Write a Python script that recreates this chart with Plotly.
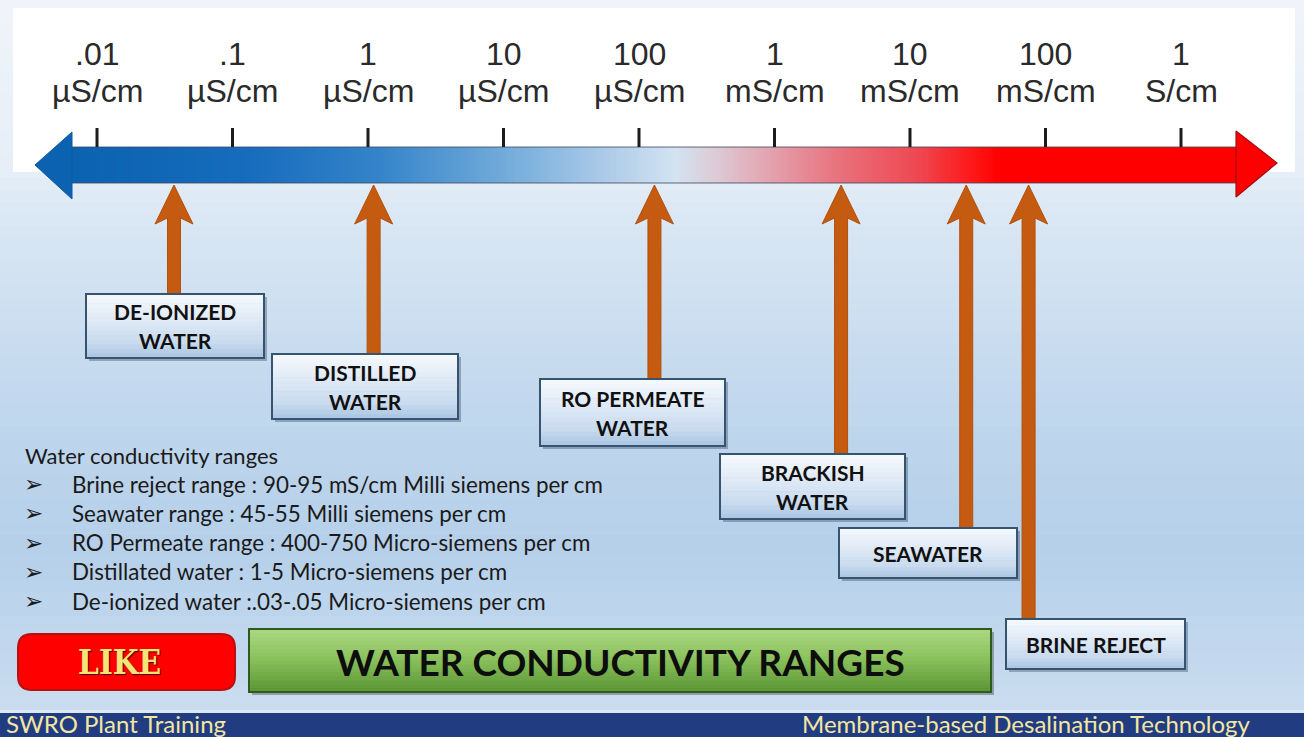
import numpy as np
import plotly.graph_objects as go

# ---------------- data ----------------
scale_values_uS = [0.01, 0.1, 1, 10, 100, 1000, 10000, 100000, 1000000]
scale_numbers = [".01", ".1", "1", "10", "100", "1", "10", "100", "1"]
scale_units = ["µS/cm", "µS/cm", "µS/cm", "µS/cm", "µS/cm", "mS/cm", "mS/cm", "mS/cm", "S/cm"]

water_labels = ["DE-IONIZED<br>WATER", "DISTILLED<br>WATER", "RO PERMEATE<br>WATER",
                "BRACKISH<br>WATER", "SEAWATER", "BRINE REJECT"]
water_pointer_uS = [0.037, 1.1, 130, 3100, 26000, 75000]

range_title = "Water conductivity ranges"
range_lines = [
    "Brine reject range : 90-95 mS/cm Milli siemens per cm",
    "Seawater range : 45-55 Milli siemens per cm",
    "RO Permeate range : 400-750 Micro-siemens per cm",
    "Distillated water : 1-5 Micro-siemens per cm",
    "De-ionized water :.03-.05 Micro-siemens per cm",
]
banner_title = "WATER CONDUCTIVITY RANGES"
like_text = "LIKE"
footer_left = "SWRO Plant Training"
footer_right = "Membrane-based Desalination Technology"

# ---------------- layout / style ----------------
W, H = 1304, 737
PX_FIRST = 97.0      # pixel of first decade tick
PX_DEC = 135.5       # pixels per decade
L0 = np.log10(scale_values_uS[0])


def L_of_px(p):
    return L0 + (np.asarray(p, dtype=float) - PX_FIRST) / PX_DEC


def P(x):
    return x / W


label_boxes = [(86, 294, 264, 358), (272, 354, 458, 419), (540, 379, 725, 446),
               (720, 454, 905, 519), (839, 528, 1017, 578), (1006, 619, 1185, 669)]

FONT_LAB = "Lato, 'Open Sans', sans-serif"
FONT_AX = "'Liberation Sans', Arial, sans-serif"
ORANGE = "#c55a11"


def hex2rgb(h):
    h = h.lstrip("#")
    return tuple(int(h[i:i + 2], 16) for i in (0, 2, 4))


def interp(stops, t):
    for (t0, c0), (t1, c1) in zip(stops[:-1], stops[1:]):
        if t0 <= t <= t1:
            a = 0 if t1 == t0 else (t - t0) / (t1 - t0)
            r0, r1 = hex2rgb(c0), hex2rgb(c1)
            return "rgb(%d,%d,%d)" % tuple(round(r0[k] + (r1[k] - r0[k]) * a) for k in range(3))
    return stops[-1][1]


shapes = []


def vgrad(x0, y0, x1, y1, stops, n, layer="above"):
    edges = np.linspace(y0, y1, n + 1)
    for i in range(n):
        t = (i + 0.5) / n
        shapes.append(dict(type="rect", xref="paper", yref="y", x0=P(x0), x1=P(x1),
                           y0=edges[i], y1=edges[i + 1] + 0.6, line=dict(width=0),
                           fillcolor=interp(stops, t), layer=layer))


# background gradient
bg_stops = [(0, "#f0f4fa"), (0.24, "#e6eef7"), (0.29, "#dce8f4"), (0.42, "#cfe0f1"),
            (0.62, "#bdd5ec"), (0.77, "#b6d0ea"), (0.88, "#bfd6ed"), (1.0, "#cadcef")]
vgrad(0, 0, W, 711, bg_stops, 60, layer="below")
shapes.append(dict(type="rect", xref="paper", yref="y", x0=P(13), x1=P(1295), y0=8, y1=172,
                   fillcolor="#ffffff", line=dict(width=0), layer="below"))
# footer
shapes.append(dict(type="rect", xref="paper", yref="y", x0=0, x1=1, y0=710, y1=713,
                   fillcolor="#dbe7f3", line=dict(width=0), layer="above"))
shapes.append(dict(type="rect", xref="paper", yref="y", x0=0, x1=1, y0=713, y1=737,
                   fillcolor="#213c80", line=dict(width=0), layer="above"))

# label boxes
box_stops = [(0, "#f5f9fd"), (0.35, "#e2ecf7"), (0.75, "#c9dbee"), (1.0, "#aac4e2")]
for (x0, y0, x1, y1) in label_boxes:
    shapes.append(dict(type="rect", xref="paper", yref="y", x0=P(x0 + 3), x1=P(x1 + 3),
                       y0=y0 + 3, y1=y1 + 3, fillcolor="rgba(40,60,90,0.35)",
                       line=dict(width=0), layer="above"))
    vgrad(x0, y0, x1, y1, box_stops, 14)
    shapes.append(dict(type="rect", xref="paper", yref="y", x0=P(x0), x1=P(x1), y0=y0, y1=y1,
                       fillcolor="rgba(0,0,0,0)", line=dict(color="#36536f", width=2),
                       layer="above"))

# LIKE button (rounded)
bx0, by0, bx1, by1, r = 18, 634, 235, 690, 14
rx = r / W
path = (f"M {P(bx0)+rx},{by0} L {P(bx1)-rx},{by0} Q {P(bx1)},{by0} {P(bx1)},{by0+r} "
        f"L {P(bx1)},{by1-r} Q {P(bx1)},{by1} {P(bx1)-rx},{by1} L {P(bx0)+rx},{by1} "
        f"Q {P(bx0)},{by1} {P(bx0)},{by1-r} L {P(bx0)},{by0+r} Q {P(bx0)},{by0} {P(bx0)+rx},{by0} Z")
shapes.append(dict(type="path", xref="paper", yref="y", path=path, fillcolor="#fe0000",
                   line=dict(color="#b81010", width=2), layer="above"))

# green banner
gx0, gy0, gx1, gy1 = 249, 629, 991, 692
green_stops = [(0, "#acd783"), (0.45, "#8cc35e"), (1.0, "#5a9532")]
shapes.append(dict(type="rect", xref="paper", yref="y", x0=P(gx0 + 3), x1=P(gx1 + 3),
                   y0=gy0 + 3, y1=gy1 + 3, fillcolor="rgba(30,50,30,0.35)",
                   line=dict(width=0), layer="above"))
vgrad(gx0, gy0, gx1, gy1, green_stops, 16)
shapes.append(dict(type="rect", xref="paper", yref="y", x0=P(gx0), x1=P(gx1), y0=gy0, y1=gy1,
                   fillcolor="rgba(0,0,0,0)", line=dict(color="#2f5a1e", width=2), layer="above"))

fig = go.Figure()

# ---- main gradient scale arrow ----
band_x0, band_x1, band_top, band_bot = 72, 1236, 147, 183
band_stops_px = [(72, "#0b62b0"), (250, "#176cbd"), (380, "#3584ca"), (520, "#7ab0dc"),
                 (600, "#a9c9e7"), (675, "#d3e3f2"), (715, "#dccbd6"), (770, "#e3a2ae"),
                 (840, "#e8717c"), (920, "#ef4650"), (975, "#fe1515"), (1000, "#ff0000"),
                 (1236, "#ff0000")]
cs = [[(p - band_x0) / (band_x1 - band_x0), c] for p, c in band_stops_px]
ncol = 400
px_edges = np.linspace(band_x0, band_x1, ncol + 1)
px_cent = 0.5 * (px_edges[:-1] + px_edges[1:])
fig.add_trace(go.Heatmap(x=L_of_px(px_edges), y=[band_top, band_bot], z=[px_cent.tolist()],
                         colorscale=cs, zmin=band_x0, zmax=band_x1, showscale=False,
                         hoverinfo="skip"))
# band edges
fig.add_trace(go.Scatter(x=L_of_px([band_x0, band_x1, None, band_x0, band_x1]),
                         y=[band_top, band_top, None, band_bot, band_bot], mode="lines",
                         line=dict(color="rgba(60,70,90,0.8)", width=1.2), hoverinfo="skip"))
# heads
fig.add_trace(go.Scatter(x=L_of_px([72, 35, 72, 72]), y=[132, 165, 199, 132], fill="toself",
                         fillcolor="#0b62b0", mode="lines", line=dict(color="#0b5aa3", width=1),
                         hoverinfo="skip"))
fig.add_trace(go.Scatter(x=L_of_px([1236, 1277, 1236, 1236]), y=[131, 163, 197, 131],
                         fill="toself", fillcolor="#fe0000", mode="lines",
                         line=dict(color="#a01010", width=1.2), hoverinfo="skip"))

# tick marks
tick_L = np.log10(scale_values_uS)
tx, ty = [], []
for L in tick_L:
    tx += [L, L, None]
    ty += [128, band_top, None]
fig.add_trace(go.Scatter(x=tx, y=ty, mode="lines", line=dict(color="#1c1c1c", width=3),
                         hoverinfo="skip"))

# orange pointer arrows
hw, sw = 19 / PX_DEC, 6.5 / PX_DEC
for v, (bx0_, by0_, bx1_, by1_) in zip(water_pointer_uS, label_boxes):
    Lp = np.log10(v)
    xs = [Lp, Lp + hw, Lp + sw, Lp + sw, Lp - sw, Lp - sw, Lp - hw, Lp]
    ys = [185, 224, 218, by0_ + 2, by0_ + 2, 218, 224, 185]
    fig.add_trace(go.Scatter(x=xs, y=ys, fill="toself", fillcolor=ORANGE, mode="lines",
                             line=dict(color="#b4500c", width=1), hoverinfo="skip"))

annotations = []
# scale labels
for L, num, unit in zip(tick_L, scale_numbers, scale_units):
    annotations.append(dict(x=L, y=54, xref="x", yref="y", text=num, showarrow=False,
                            xanchor="center",
                            font=dict(family=FONT_AX, size=32, color="#2a2a2a")))
    annotations.append(dict(x=L, y=91, xref="x", yref="y", text=unit, showarrow=False,
                            xanchor="center",
                            font=dict(family=FONT_AX, size=32, color="#2a2a2a")))

# box labels
for lab, (x0, y0, x1, y1) in zip(water_labels, label_boxes):
    lines = lab.split("<br>")
    cy = (y0 + y1) / 2
    n = len(lines)
    for i, ln in enumerate(lines):
        yy = cy + (i - (n - 1) / 2) * 29
        annotations.append(dict(x=P((x0 + x1) / 2), y=yy, xref="paper", yref="y", text=ln,
                                showarrow=False, xanchor="center", yanchor="middle",
                                font=dict(family=FONT_LAB, size=21, color="#111111", weight=700)))

# list text
annotations.append(dict(x=P(23), y=455, xref="paper", yref="y", text=range_title,
                        showarrow=False, xanchor="left",
                        font=dict(family=FONT_LAB, size=22, color="#1a1a1a")))
for i, ln in enumerate(range_lines):
    yy = 484 + i * 29.3
    annotations.append(dict(x=P(22), y=yy, xref="paper", yref="y", text="➢", showarrow=False,
                            xanchor="left",
                            font=dict(family="'DejaVu Sans', sans-serif", size=23, color="#1a1a1a")))
    annotations.append(dict(x=P(70), y=yy, xref="paper", yref="y", text=ln, showarrow=False,
                            xanchor="left",
                            font=dict(family=FONT_LAB, size=22.4, color="#1a1a1a")))

# banner & button texts
annotations.append(dict(x=P((gx0 + gx1) / 2), y=661, xref="paper", yref="y", text=banner_title,
                        showarrow=False, xanchor="center",
                        font=dict(family=FONT_LAB, size=37, color="#0d0d0d", weight=700)))
annotations.append(dict(x=P(119), y=662, xref="paper", yref="y", text=like_text,
                        showarrow=False, xanchor="center",
                        font=dict(family="'DejaVu Serif Condensed', 'DejaVu Serif', serif",
                                  size=33, color="#f3e678", weight=700,
                                  shadow="1px 1px 1px #4a0000")))
# footer
annotations.append(dict(x=P(4), y=723, xref="paper", yref="y", text=footer_left,
                        showarrow=False, xanchor="left",
                        font=dict(family=FONT_LAB, size=24, color="#f2e6a4")))
annotations.append(dict(x=P(1253), y=723, xref="paper", yref="y", text=footer_right,
                        showarrow=False, xanchor="right",
                        font=dict(family=FONT_LAB, size=24, color="#f2e6a4")))

fig.update_layout(
    width=W, height=H, margin=dict(l=0, r=0, t=0, b=0),
    paper_bgcolor="#eef3f9", plot_bgcolor="#eef3f9", showlegend=False,
    hovermode=False, shapes=shapes, annotations=annotations,
    xaxis=dict(range=[float(L_of_px(0)), float(L_of_px(W))], visible=False, fixedrange=True),
    yaxis=dict(range=[H, 0], visible=False, fixedrange=True),
)
fig.write_html("out.html", config={"displayModeBar": False},
               post_script="document.body.style.margin='0';document.body.style.overflow='hidden';")
